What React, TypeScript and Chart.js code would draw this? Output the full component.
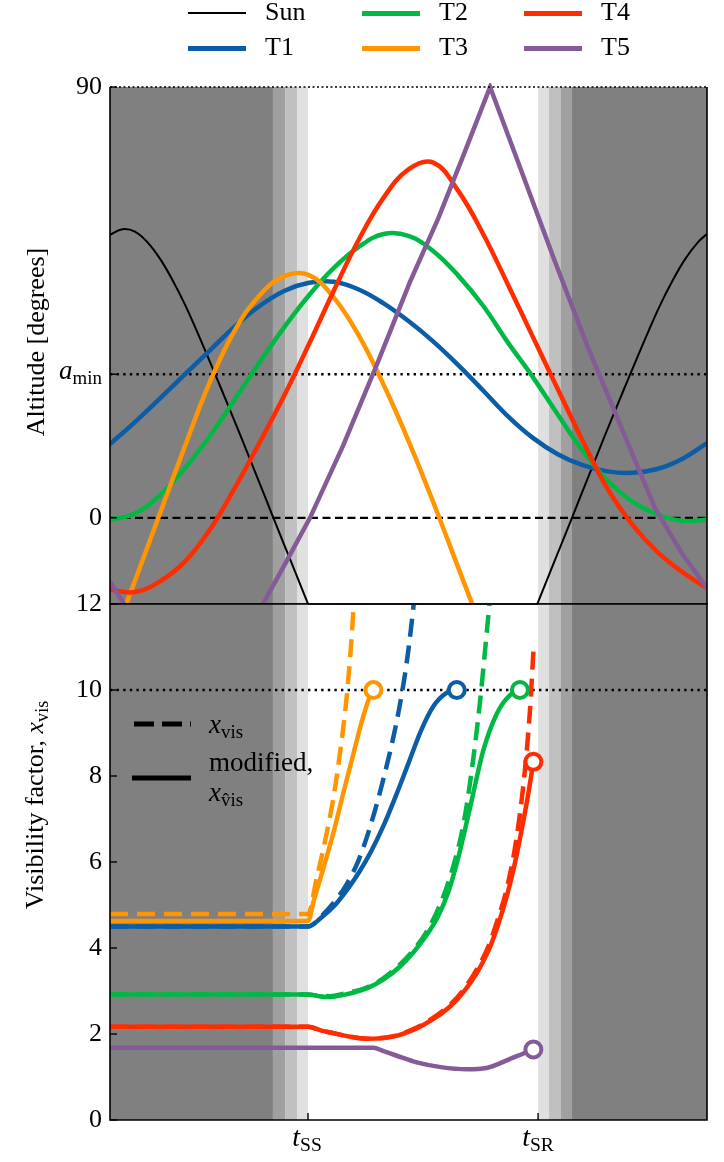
import React, { useEffect, useRef } from "react";
import { Chart, registerables } from "chart.js";
Chart.register(...registerables);

const FONT = "'Liberation Serif', 'DejaVu Serif', serif";

// ---------- x axis: hours since the start of the plotted interval ----------
const hourMin = 0;
const hourMax = 24;
const tSunset = 7.96; // t_SS
const tSunrise = 17.21; // t_SR
const eveningTwilight = [6.55, 7.04, 7.52, 7.96];
const morningTwilight = [17.21, 17.65, 18.13, 18.57];

// ---------- top panel: altitude [deg] ----------
const altMin = -18;
const altMax = 90;
const altTickValues = [0, 30, 90];
const aMinValue = 30;

const sunHours = [0, 0.5, 1, 1.5, 2, 2.5, 3, 3.5, 4, 4.5, 5, 5.5, 6, 6.5, 7, 7.5, 8, 8.5, 12.57, 16.64, 17.14, 17.64, 18.14, 18.64, 19.14, 19.64, 20.14, 20.64, 21.14, 21.64, 22.14, 22.64, 23.14, 23.64, 24];
const sunAlt = [59.1, 60.3, 59.8, 57.6, 54.2, 49.8, 44.7, 38.9, 32.8, 26.6, 20.3, 13.9, 7.4, 0.9, -5.6, -12.0, -18.5, -25, null, -25, -18.5, -12.0, -5.6, 0.9, 7.4, 13.9, 20.3, 26.6, 32.8, 38.9, 44.7, 49.8, 54.2, 57.6, 59.3];

const hourly = [0, 1, 2, 3, 4, 5, 6, 7, 8, 9, 10, 11, 12, 13, 14, 15, 16, 17, 18, 19, 20, 21, 22, 23, 24];
const t1Alt = [15.4, 20.0, 24.9, 29.9, 34.9, 39.9, 44.2, 47.4, 49.1, 49.3, 47.7, 44.8, 41.1, 36.8, 31.9, 26.6, 21.2, 16.7, 13.3, 11.0, 9.7, 9.4, 10.2, 12.3, 15.6];
const t2Alt = [-0.4, 0.9, 4.7, 10.3, 17.0, 24.6, 32.4, 39.8, 46.5, 52.2, 56.6, 59.3, 58.9, 55.7, 50.6, 44.3, 36.6, 29.4, 21.6, 14.0, 7.8, 3.4, 0.7, -0.6, -0.4];
const t3Hours = [0, 1, 2, 3, 4, 5, 6, 7, 8, 9, 10, 11, 12, 13, 14, 15];
const t3Alt = [-27, -13.2, 0.8, 14.8, 28.2, 39.0, 46.4, 50.5, 50.7, 46.0, 38.1, 27.8, 16.1, 3.2, -10.4, -24];
const t4Alt = [-15.0, -15.5, -13.3, -9.2, -2.6, 6.1, 15.6, 25.5, 36.3, 47.5, 58.1, 66.9, 72.8, 74.2, 68.3, 59.3, 48.7, 37.8, 26.9, 16.1, 6.1, -1.4, -7.1, -11.3, -14.7];

const t5Hours = [0, 0.54, 1.2, 3.3, 5.5, 6.17, 7.0, 8.04, 9.38, 10.72, 12.06, 13.2, 14.2, 15.28, 16.55, 17.89, 19.23, 20.57, 21.91, 23.0, 24];
const t5Alt = [-13.3, -17.8, -24, null, -24, -17.8, -10, 0, 15.2, 31.9, 49.3, 62.6, 75.6, 90, 72.3, 53.5, 35.4, 18.7, 2.0, -7.5, -14.7];

// ---------- bottom panel: visibility factor ----------
const visMin = 0;
const visMax = 12;
const visTickValues = [0, 2, 4, 6, 8, 10, 12];
const visLimit = 10;

const t1ModHours = [0, 7.96, 8.5, 9.0, 9.5, 10.0, 10.5, 11.0, 11.5, 12.0, 12.5, 13.0, 13.5, 13.94];
const t1ModVis = [4.5, 4.5, 4.71, 4.97, 5.33, 5.75, 6.25, 6.85, 7.55, 8.3, 9.05, 9.62, 9.92, 10.0];
const t1RawHours = [0, 7.96, 8.5, 9.0, 9.5, 10.0, 10.5, 11.0, 11.5, 11.8, 12.0, 12.2, 12.35];
const t1RawVis = [4.5, 4.5, 4.74, 5.06, 5.47, 6.05, 6.9, 7.95, 9.2, 10.15, 10.95, 11.95, 12.8];

const t2ModHours = [0, 7.96, 8.4, 8.84, 9.4, 10.32, 11.0, 11.66, 12.2, 12.73, 13.2, 13.6, 14.0, 14.47, 15.01, 15.55, 16.08, 16.48];
const t2ModVis = [2.92, 2.92, 2.88, 2.86, 2.91, 3.06, 3.27, 3.57, 3.9, 4.3, 4.75, 5.3, 6.1, 7.25, 8.6, 9.45, 9.88, 10.0];
const t2RawHours = [0, 7.96, 8.4, 8.84, 9.4, 10.32, 11.0, 11.66, 12.2, 12.73, 13.3, 13.8, 14.2, 14.5, 14.87, 15.14, 15.35];
const t2RawVis = [2.92, 2.92, 2.89, 2.88, 2.94, 3.08, 3.3, 3.62, 3.95, 4.38, 5.05, 5.9, 6.85, 7.95, 9.7, 11.3, 12.6];

const t3ModHours = [0, 7.96, 8.2, 8.6, 9.0, 9.4, 9.8, 10.1, 10.4, 10.59];
const t3ModVis = [4.63, 4.63, 5.12, 5.9, 6.72, 7.65, 8.55, 9.22, 9.78, 10.0];
const t3RawHours = [0, 7.96, 8.3, 8.71, 9.0, 9.25, 9.5, 9.71, 9.82];
const t3RawVis = [4.79, 4.79, 5.6, 6.67, 7.55, 8.55, 9.75, 11.2, 12.2];

const t4ModHours = [0, 7.96, 8.5, 8.98, 9.6, 10.32, 11.39, 12.33, 13.0, 13.67, 14.2, 14.74, 15.2, 15.55, 15.95, 16.25, 16.55, 16.82, 17.02];
const t4ModVis = [2.17, 2.17, 2.08, 2.02, 1.94, 1.89, 1.94, 2.13, 2.35, 2.64, 2.97, 3.41, 3.92, 4.45, 5.2, 5.9, 6.75, 7.6, 8.33];
const t4RawHours = [0, 7.96, 8.5, 8.98, 9.6, 10.32, 11.39, 12.33, 13.0, 13.67, 14.2, 14.74, 15.2, 15.55, 15.95, 16.3, 16.62, 16.88, 17.03];
const t4RawVis = [2.17, 2.17, 2.08, 2.02, 1.94, 1.89, 1.95, 2.15, 2.38, 2.68, 3.02, 3.5, 4.02, 4.6, 5.38, 6.4, 7.8, 9.5, 11.0];

const t5ModHours = [0, 10.59, 11.0, 11.5, 12.33, 13.3, 14.34, 15.14, 15.6, 16.08, 16.6, 17.02];
const t5ModVis = [1.68, 1.68, 1.6, 1.5, 1.34, 1.23, 1.18, 1.21, 1.3, 1.42, 1.54, 1.64];

const endHours = [10.59, 13.94, 16.48, 17.02, 17.02];
const endVis = [10.0, 10.0, 10.0, 8.33, 1.64];

// ---------- styles ----------
const C_SUN = "#000000";
const C1 = "#0C5DA5";
const C2 = "#00B945";
const C3 = "#FF9500";
const C4 = "#FF2C00";
const C5 = "#845B97";
const endColors = [C3, C1, C2, C4, C5];
const nightColor = "#808080";
const twilightShades = ["#a0a0a0", "#c0c0c0", "#e0e0e0"];
const LW = 4.5;
const DASH = [18, 9];
const FS = 26;

const pts = (xs: number[], ys: (number | null)[]) => xs.map((x, i) => ({ x, y: ys[i] }));

const curve = (label: string, xs: number[], ys: (number | null)[], color: string, width: number, order: number, extra: any = {}) => ({
  label,
  data: pts(xs, ys),
  borderColor: color,
  backgroundColor: color,
  borderWidth: width,
  pointRadius: 0,
  pointHoverRadius: 0,
  fill: false,
  cubicInterpolationMode: "monotone",
  spanGaps: false,
  borderCapStyle: "butt",
  order,
  ...extra,
});

function panelPlugin(isTop: boolean) {
  return {
    id: isTop ? "panelTop" : "panelBottom",
    beforeDatasetsDraw(chart: any) {
      const { ctx, chartArea: a, scales } = chart;
      const x = scales.x;
      const band = (x0: number, x1: number, color: string) => {
        const p0 = x.getPixelForValue(x0);
        const p1 = x.getPixelForValue(x1);
        ctx.fillStyle = color;
        ctx.fillRect(p0, a.top, p1 - p0, a.bottom - a.top);
      };
      ctx.save();
      band(hourMin, eveningTwilight[0], nightColor);
      for (let i = 0; i < 3; i++) band(eveningTwilight[i], eveningTwilight[i + 1], twilightShades[i]);
      for (let i = 0; i < 3; i++) band(morningTwilight[i], morningTwilight[i + 1], twilightShades[2 - i]);
      band(morningTwilight[3], hourMax, nightColor);
      ctx.restore();
    },
    afterDraw(chart: any) {
      const { ctx, chartArea: a, scales } = chart;
      ctx.save();
      ctx.strokeStyle = "#000";
      ctx.lineWidth = 1.6;
      ctx.setLineDash([]);
      ctx.beginPath();
      ctx.moveTo(a.left, a.top);
      ctx.lineTo(a.left, a.bottom);
      ctx.lineTo(a.right, a.bottom);
      ctx.lineTo(a.right, a.top);
      if (!isTop) ctx.lineTo(a.left, a.top);
      ctx.stroke();
      if (isTop) {
        ctx.lineWidth = 1.4;
        ctx.setLineDash([2, 2.5]);
        ctx.beginPath();
        ctx.moveTo(a.left, a.top);
        ctx.lineTo(a.right, a.top);
        ctx.stroke();
        ctx.setLineDash([]);
      }
      ctx.lineWidth = 1.4;
      const y = scales.y;
      const tv = isTop ? altTickValues : visTickValues;
      tv.forEach((v) => {
        const py = y.getPixelForValue(v);
        ctx.beginPath();
        ctx.moveTo(a.left, py);
        ctx.lineTo(a.left + 7, py);
        ctx.stroke();
      });
      if (!isTop) {
        [tSunset, tSunrise].forEach((v) => {
          const px = scales.x.getPixelForValue(v);
          ctx.beginPath();
          ctx.moveTo(px, a.bottom);
          ctx.lineTo(px, a.bottom - 7);
          ctx.stroke();
        });
      }
      ctx.restore();
    },
  };
}

const yScale = (min: number, max: number, values: number[], hideValue: number | null) => ({
  type: "linear",
  min,
  max,
  afterFit: (s: any) => {
    s.width = 110;
  },
  afterBuildTicks: (s: any) => {
    s.ticks = values.map((v) => ({ value: v }));
  },
  ticks: {
    callback: (v: any) => (v === hideValue ? "" : String(v)),
    font: { family: FONT, size: FS },
    color: "#000",
    padding: 8,
    autoSkip: false,
    maxRotation: 0,
  },
  grid: { display: false, drawTicks: false },
  border: { display: false },
});

const baseOptions = (padding: any, y: any) => ({
  animation: false,
  responsive: false,
  devicePixelRatio: 1,
  layout: { padding },
  plugins: { legend: { display: false }, tooltip: { enabled: false } },
  events: [],
  scales: {
    x: { type: "linear", min: hourMin, max: hourMax, display: false },
    y,
  },
});

const Sub = ({ children }: any) => (
  <span style={{ fontSize: "0.7em", position: "relative", top: "0.28em", fontStyle: "normal" }}>{children}</span>
);

export default function App() {
  const topRef = useRef<HTMLCanvasElement>(null);
  const botRef = useRef<HTMLCanvasElement>(null);

  useEffect(() => {
    const clipTop = { left: 0, right: 0, top: 4, bottom: 0 };
    const clipBot = { left: 0, right: 0, top: 0, bottom: 0 };
    const smooth = { cubicInterpolationMode: "default", tension: 0.4 };
    const straight = { cubicInterpolationMode: "default", tension: 0 };
    const top = new Chart(topRef.current as HTMLCanvasElement, {
      type: "line",
      data: {
        datasets: [
          curve("amin", [hourMin, hourMax], [aMinValue, aMinValue], "#000", 2.4, 10, { borderDash: [2.4, 4.2], ...straight }),
          curve("horizon", [hourMin, hourMax], [0, 0], "#000", 2.2, 10, { borderDash: [8, 4.5], ...straight }),
          curve("Sun", sunHours, sunAlt, C_SUN, 2, 6, { clip: clipTop, ...smooth }),
          curve("T1", hourly, t1Alt, C1, LW, 5, { clip: clipTop, ...smooth }),
          curve("T2", hourly, t2Alt, C2, LW, 4, { clip: clipTop, ...smooth }),
          curve("T3", t3Hours, t3Alt, C3, LW, 3, { clip: clipTop, ...smooth }),
          curve("T4", hourly, t4Alt, C4, LW, 2, { clip: clipTop, ...smooth }),
          curve("T5", t5Hours, t5Alt, C5, LW, 1, { clip: clipTop, ...straight }),
        ],
      } as any,
      options: baseOptions({ left: 0, right: 17, top: 87, bottom: 36 }, yScale(altMin, altMax, altTickValues, aMinValue)) as any,
      plugins: [panelPlugin(true)],
    });

    const bot = new Chart(botRef.current as HTMLCanvasElement, {
      type: "line",
      data: {
        datasets: [
          curve("limit", [hourMin, hourMax], [visLimit, visLimit], "#000", 2.4, 20, { borderDash: [2.4, 4.2], ...straight }),
          curve("T1 x", t1RawHours, t1RawVis, C1, LW, 12, { borderDash: DASH, clip: clipBot }),
          curve("T2 x", t2RawHours, t2RawVis, C2, LW, 12, { borderDash: DASH, clip: clipBot }),
          curve("T3 x", t3RawHours, t3RawVis, C3, LW, 12, { borderDash: DASH, clip: clipBot }),
          curve("T4 x", t4RawHours, t4RawVis, C4, LW, 12, { borderDash: DASH, clip: clipBot }),
          curve("T1 mod", t1ModHours, t1ModVis, C1, LW, 5, { clip: clipBot }),
          curve("T2 mod", t2ModHours, t2ModVis, C2, LW, 5, { clip: clipBot }),
          curve("T3 mod", t3ModHours, t3ModVis, C3, LW, 5, { clip: clipBot }),
          curve("T4 mod", t4ModHours, t4ModVis, C4, LW, 5, { clip: clipBot }),
          curve("T5 mod", t5ModHours, t5ModVis, C5, LW, 5, { clip: clipBot }),
          {
            label: "ends",
            data: pts(endHours, endVis),
            showLine: false,
            pointRadius: 8,
            pointHoverRadius: 8,
            pointBorderWidth: 4,
            pointBackgroundColor: "#ffffff",
            pointBorderColor: endColors,
            order: 0,
          },
        ],
      } as any,
      options: baseOptions({ left: 0, right: 17, top: 34, bottom: 42 }, yScale(visMin, visMax, visTickValues, null)) as any,
      plugins: [panelPlugin(false)],
    });

    return () => {
      top.destroy();
      bot.destroy();
    };
  }, []);

  const legendItems = [
    { label: "Sun", color: C_SUN, h: 2, col: 0, row: 0 },
    { label: "T2", color: C2, h: 5, col: 1, row: 0 },
    { label: "T4", color: C4, h: 5, col: 2, row: 0 },
    { label: "T1", color: C1, h: 5, col: 0, row: 1 },
    { label: "T3", color: C3, h: 5, col: 1, row: 1 },
    { label: "T5", color: C5, h: 5, col: 2, row: 1 },
  ];
  const colX = [188, 362, 524];
  const rowY = [13, 48];

  const abs = (extra: any) => ({ position: "absolute" as const, whiteSpace: "nowrap" as const, lineHeight: "26px", ...extra });

  return (
    <div style={{ position: "absolute", left: 0, top: 0, width: 724, height: 1162, fontFamily: FONT, fontSize: FS, color: "#000", background: "#fff", overflow: "hidden" }}>
      <canvas ref={topRef} width={724} height={640} style={{ position: "absolute", left: 0, top: 0 }} />
      <canvas ref={botRef} width={724} height={592} style={{ position: "absolute", left: 0, top: 570 }} />

      {legendItems.map((it) => (
        <React.Fragment key={it.label}>
          <div style={{ position: "absolute", left: colX[it.col], top: rowY[it.row] - it.h / 2, width: 58, height: it.h, background: it.color }} />
          <div style={abs({ left: colX[it.col] + 77, top: rowY[it.row] - 14 })}>{it.label}</div>
        </React.Fragment>
      ))}

      <div style={abs({ left: 36, top: 342, transform: "translate(-50%, -50%) rotate(-90deg)" })}>Altitude [degrees]</div>
      <div style={abs({ left: 36, top: 805, transform: "translate(-50%, -50%) rotate(-90deg)" })}>
        Visibility factor, <i>x</i>
        <Sub>vis</Sub>
      </div>

      <div style={abs({ right: 724 - 102, top: 357, textAlign: "right", fontSize: 27 })}>
        <i>a</i>
        <Sub>min</Sub>
      </div>

      <div style={abs({ left: 307, top: 1124, transform: "translateX(-50%)", fontSize: 28 })}>
        <i>t</i>
        <Sub>SS</Sub>
      </div>
      <div style={abs({ left: 538, top: 1124, transform: "translateX(-50%)", fontSize: 28 })}>
        <i>t</i>
        <Sub>SR</Sub>
      </div>

      <svg width={724} height={1162} style={{ position: "absolute", left: 0, top: 0, pointerEvents: "none" }}>
        <line x1={134} y1={724} x2={191} y2={724} stroke="#000" strokeWidth={5} strokeDasharray="20 8" />
        <line x1={132} y1={778} x2={191} y2={778} stroke="#000" strokeWidth={5} />
      </svg>
      <div style={abs({ left: 209, top: 711, fontSize: 27 })}>
        <i>x</i>
        <Sub>vis</Sub>
      </div>
      <div style={abs({ left: 209, top: 749, fontSize: 27 })}>modified,</div>
      <div style={abs({ left: 209, top: 779, fontSize: 27 })}>
        <i>x</i>
        <Sub>v&#770;is</Sub>
      </div>
    </div>
  );
}
